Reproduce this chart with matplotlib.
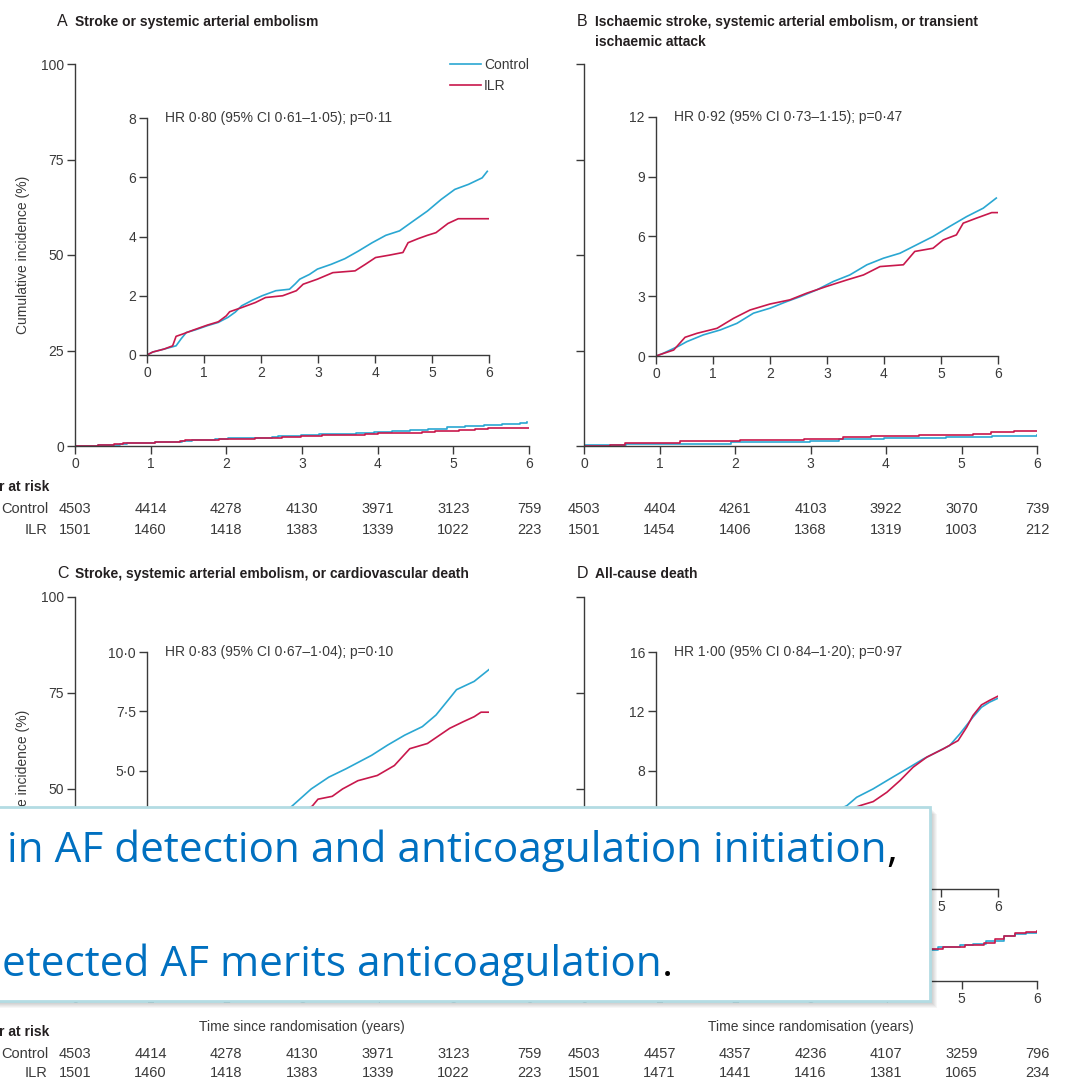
import matplotlib.pyplot as plt
import matplotlib.transforms as mtransforms
from matplotlib.patches import Rectangle

plt.rcParams['font.family'] = ['Liberation Sans', 'DejaVu Sans']

# ---- cumulative incidence (%) per arm ----
# A: stroke or systemic arterial embolism
a_ctrl_t = [0, 0.1, 0.3, 0.51, 0.6, 0.69, 0.85, 1.06, 1.25, 1.42, 1.55, 1.66, 1.85, 2.02, 2.26, 2.5, 2.6,
            2.68, 2.85, 2.99, 3.23, 3.47, 3.71, 3.95, 4.19, 4.43, 4.67, 4.92, 5.16, 5.4, 5.64, 5.88, 5.97]
a_ctrl_y = [0, 0.1, 0.2, 0.31, 0.55, 0.76, 0.85, 0.99, 1.1, 1.27, 1.45, 1.66, 1.85, 2.0, 2.17, 2.22, 2.4,
            2.56, 2.72, 2.9, 3.06, 3.25, 3.51, 3.79, 4.04, 4.19, 4.52, 4.86, 5.25, 5.59, 5.76, 5.98, 6.2]
a_ilr_t = [0, 0.1, 0.3, 0.45, 0.51, 0.63, 0.81, 1.06, 1.25, 1.39, 1.45, 1.66, 1.9, 2.08, 2.38, 2.62, 2.74,
           2.99, 3.26, 3.65, 3.83, 4.01, 4.25, 4.49, 4.58, 4.76, 4.92, 5.07, 5.28, 5.46, 6.0]
a_ilr_y = [0, 0.1, 0.2, 0.31, 0.63, 0.71, 0.84, 1.01, 1.12, 1.32, 1.46, 1.6, 1.77, 1.94, 2.0, 2.17, 2.39,
           2.56, 2.78, 2.84, 3.06, 3.29, 3.37, 3.46, 3.79, 3.93, 4.04, 4.13, 4.44, 4.6, 4.6]

# B: ischaemic stroke, SAE or TIA (inset)
b_ctrl_t = [0, 0.1, 0.25, 0.4, 0.54, 0.83, 1.13, 1.42, 1.71, 2.0, 2.29, 2.53, 2.82, 3.11, 3.4, 3.7,
            3.99, 4.28, 4.57, 4.86, 5.15, 5.45, 5.74, 5.97]
b_ctrl_y = [0, 0.1, 0.3, 0.5, 0.72, 1.06, 1.31, 1.64, 2.15, 2.4, 2.73, 2.98, 3.32, 3.74, 4.07, 4.58,
            4.91, 5.16, 5.58, 6.0, 6.5, 7.0, 7.42, 7.93]
b_ilr_t = [0, 0.1, 0.31, 0.51, 0.72, 1.07, 1.36, 1.65, 2.0, 2.35, 2.64, 2.99, 3.35, 3.64, 3.93, 4.34,
           4.54, 4.86, 5.04, 5.27, 5.39, 5.62, 5.89, 5.99]
b_ilr_y = [0, 0.1, 0.3, 0.94, 1.14, 1.39, 1.89, 2.31, 2.61, 2.82, 3.15, 3.49, 3.82, 4.07, 4.49, 4.58,
           5.25, 5.41, 5.83, 6.08, 6.67, 6.92, 7.2, 7.2]
# B: full-scale panel
b_main_ctrl_t = [0, 0.56, 1.95, 2.99, 3.38, 3.98, 4.79, 5.4, 6.0]
b_main_ctrl_y = [0.26, 0.5, 1.04, 1.39, 1.73, 2.0, 2.34, 2.69, 2.86]
b_main_ilr_t = [0, 0.35, 0.54, 1.27, 2.06, 2.92, 3.43, 3.8, 4.44, 5.15, 5.39, 5.7, 6.0]
b_main_ilr_y = [0, 0.35, 0.8, 1.2, 1.56, 1.9, 2.25, 2.6, 2.86, 3.2, 3.55, 3.9, 3.9]

# C: stroke, SAE or cardiovascular death
c_ctrl_t = [0, 0.5, 1.0, 1.5, 2.0, 2.3, 2.55, 2.88, 3.19, 3.49, 3.94, 4.22, 4.52, 4.83, 5.07, 5.31,
            5.43, 5.74, 6.0]
c_ctrl_y = [0, 0.6, 1.2, 1.9, 2.6, 3.0, 3.51, 4.22, 4.72, 5.07, 5.64, 6.07, 6.49, 6.85, 7.34, 8.05,
            8.41, 8.76, 9.26]
c_ilr_t = [0, 0.5, 1.0, 1.5, 2.0, 2.5, 2.9, 3.0, 3.25, 3.43, 3.7, 4.04, 4.34, 4.61, 4.92, 5.31, 5.55,
           5.74, 5.86, 6.0]
c_ilr_y = [0, 0.6, 1.2, 1.8, 2.4, 2.9, 3.5, 3.79, 3.91, 4.22, 4.57, 4.79, 5.21, 5.92, 6.14, 6.78, 7.06,
           7.27, 7.46, 7.46]

# D: all-cause death
d_ctrl_t = [0, 0.25, 0.5, 0.75, 1.0, 1.5, 2.0, 2.5, 3.0, 3.35, 3.52, 3.81, 4.1, 4.4, 4.69, 4.98, 5.15,
            5.33, 5.56, 5.71, 5.85, 6.0]
d_ctrl_y = [0, 0.5, 1.0, 1.4, 1.9, 2.7, 3.5, 4.3, 5.0, 5.63, 6.19, 6.76, 7.43, 8.11, 8.78, 9.35, 9.68,
            10.47, 11.6, 12.27, 12.61, 12.88]
d_ilr_t = [0, 0.25, 0.5, 0.75, 1.0, 1.5, 2.0, 2.5, 3.0, 3.58, 3.81, 4.05, 4.28, 4.51, 4.75, 5.04, 5.3,
           5.45, 5.56, 5.71, 5.85, 6.0]
d_ilr_y = [0, 0.5, 1.0, 1.4, 1.9, 2.7, 3.4, 4.1, 4.8, 5.63, 5.9, 6.53, 7.32, 8.22, 8.9, 9.46, 10.02,
           10.92, 11.71, 12.43, 12.73, 13.02]

# numbers at risk at years 0..6
years = [0, 1, 2, 3, 4, 5, 6]
a_risk_ctrl = [4503, 4414, 4278, 4130, 3971, 3123, 759]
a_risk_ilr = [1501, 1460, 1418, 1383, 1339, 1022, 223]
b_risk_ctrl = [4503, 4404, 4261, 4103, 3922, 3070, 739]
b_risk_ilr = [1501, 1454, 1406, 1368, 1319, 1003, 212]
c_risk_ctrl = [4503, 4414, 4278, 4130, 3971, 3123, 759]
c_risk_ilr = [1501, 1460, 1418, 1383, 1339, 1022, 223]
d_risk_ctrl = [4503, 4457, 4357, 4236, 4107, 3259, 796]
d_risk_ilr = [1501, 1471, 1441, 1416, 1381, 1065, 234]

main_ticks = [0, 25, 50, 75, 100]
a_in_ticks, a_in_labels = [0, 2, 4, 6, 8], ['0', '2', '4', '6', '8']
b_in_ticks, b_in_labels = [0, 3, 6, 9, 12], ['0', '3', '6', '9', '12']
c_in_ticks, c_in_labels = [0, 2.5, 5, 7.5, 10], ['0', '2·5', '5·0', '7·5', '10·0']
d_in_ticks, d_in_labels = [0, 4, 8, 12, 16], ['0', '4', '8', '12', '16']

hr_a = 'HR 0·80 (95% CI 0·61–1·05); p=0·11'
hr_b = 'HR 0·92 (95% CI 0·73–1·15); p=0·47'
hr_c = 'HR 0·83 (95% CI 0·67–1·04); p=0·10'
hr_d = 'HR 1·00 (95% CI 0·84–1·20); p=0·97'

CTRL = '#2aa7d2'
ILR = '#c8184c'
AXIS = '#3a3a3a'
TXT = '#3a3a3a'
TITLE = '#231f20'
BLUE = '#0070c0'

W, H = 1076, 1088
fig = plt.figure(figsize=(W / 100, H / 100), dpi=100)


def fy(y):
    return 1 - y / H


def px_axes(l, t, r, b):
    return fig.add_axes([l / W, 1 - b / H, (r - l) / W, (b - t) / H])


def style(ax, ticks, labels, ymax, showy=True):
    for s in ['top', 'right']:
        ax.spines[s].set_visible(False)
    for s in ['left', 'bottom']:
        ax.spines[s].set_color(AXIS)
        ax.spines[s].set_linewidth(1.0)
    ax.patch.set_visible(False)
    ax.set_xlim(0, 6)
    ax.set_ylim(0, ymax)
    ax.set_xticks(years)
    ax.set_yticks(ticks, labels if showy else [''] * len(ticks))
    ax.tick_params(direction='out', length=6, width=1.0, color=AXIS,
                   labelsize=10, labelcolor=TXT, pad=2)


def curves(ax, ct, cy, it, iy, ds='default'):
    lc, = ax.plot(ct, cy, drawstyle=ds, color=CTRL, lw=1.2)
    li, = ax.plot(it, iy, drawstyle=ds, color=ILR, lw=1.2)
    return lc, li


# full-scale axes (0-100) and zoomed insets
ax_a = px_axes(75, 64, 529, 446)
ax_b = px_axes(584, 64, 1037, 446)
ax_c = px_axes(75, 597, 529, 981)
ax_d = px_axes(584, 597, 1037, 981)
in_a = px_axes(147, 118, 489, 355)
in_b = px_axes(656, 117, 998, 356)
in_c = px_axes(147, 652, 489, 889)
in_d = px_axes(656, 652, 998, 889)

style(ax_a, main_ticks, [str(v) for v in main_ticks], 100)
style(ax_b, main_ticks, None, 100, showy=False)
style(ax_c, main_ticks, [str(v) for v in main_ticks], 100)
style(ax_d, main_ticks, None, 100, showy=False)
style(in_a, a_in_ticks, a_in_labels, 8)
style(in_b, b_in_ticks, b_in_labels, 12)
style(in_c, c_in_ticks, c_in_labels, 10)
style(in_d, d_in_ticks, d_in_labels, 16)

lc, li = curves(ax_a, a_ctrl_t, a_ctrl_y, a_ilr_t, a_ilr_y, 'steps-post')
curves(in_a, a_ctrl_t, a_ctrl_y, a_ilr_t, a_ilr_y)
curves(ax_b, b_main_ctrl_t, b_main_ctrl_y, b_main_ilr_t, b_main_ilr_y, 'steps-post')
curves(in_b, b_ctrl_t, b_ctrl_y, b_ilr_t, b_ilr_y)
curves(ax_c, c_ctrl_t, c_ctrl_y, c_ilr_t, c_ilr_y, 'steps-post')
curves(in_c, c_ctrl_t, c_ctrl_y, c_ilr_t, c_ilr_y)
curves(ax_d, d_ctrl_t, d_ctrl_y, d_ilr_t, d_ilr_y, 'steps-post')
curves(in_d, d_ctrl_t, d_ctrl_y, d_ilr_t, d_ilr_y)

for ax, hr in [(in_a, hr_a), (in_b, hr_b), (in_c, hr_c), (in_d, hr_d)]:
    ax.text(0.053, 1.0, hr, transform=ax.transAxes, va='center', ha='left',
            fontsize=10, color=TXT)

for ax in [ax_a, ax_c]:
    ax.set_ylabel('Cumulative incidence (%)', fontsize=10, color=TXT, labelpad=8)
for ax in [ax_c, ax_d]:
    ax.set_xlabel('Time since randomisation (years)', fontsize=10, color=TXT, labelpad=10)

fig.legend([lc, li], ['Control', 'ILR'], loc='upper left', bbox_to_anchor=(450 / W, fy(58)),
           frameon=False, fontsize=10, handlelength=2.2, handletextpad=0.25,
           labelspacing=0.5, borderpad=0, borderaxespad=0, labelcolor=TXT)

# panel titles
for x, y, letter, title in [(57, 22, 'A', 'Stroke or systemic arterial embolism'),
                            (577, 22, 'B', 'Ischaemic stroke, systemic arterial embolism, or transient'),
                            (57, 574, 'C', 'Stroke, systemic arterial embolism, or cardiovascular death'),
                            (577, 574, 'D', 'All-cause death')]:
    fig.text(x / W, fy(y), letter, fontsize=11.5, color=TITLE, va='center', ha='left')
    fig.text((x + 18) / W, fy(y), title, fontsize=10, weight='bold', color=TITLE,
             va='center', ha='left')
fig.text(595 / W, fy(42), 'ischaemic attack', fontsize=10, weight='bold', color=TITLE,
         va='center', ha='left')

# numbers at risk: header row, control row, ILR row
risk_rows_top = [487, 509, 530]
risk_rows_bottom = [1032, 1054, 1073]
for ax, rc, ri, rows in [(ax_a, a_risk_ctrl, a_risk_ilr, risk_rows_top),
                         (ax_b, b_risk_ctrl, b_risk_ilr, risk_rows_top),
                         (ax_c, c_risk_ctrl, c_risk_ilr, risk_rows_bottom),
                         (ax_d, d_risk_ctrl, d_risk_ilr, risk_rows_bottom)]:
    tr = mtransforms.blended_transform_factory(ax.transData, fig.transFigure)
    for yr, n1, n2 in zip(years, rc, ri):
        fig.text(yr, fy(rows[1]), str(n1), transform=tr, ha='center', va='center',
                 fontsize=10.5, color=TXT)
        fig.text(yr, fy(rows[2]), str(n2), transform=tr, ha='center', va='center',
                 fontsize=10.5, color=TXT)

for rows in [risk_rows_top, risk_rows_bottom]:
    fig.text(49 / W, fy(rows[0]), 'Number at risk', ha='right', va='center', fontsize=10,
             weight='bold', color=TITLE)
    fig.text(48 / W, fy(rows[1]), 'Control', ha='right', va='center', fontsize=10.5, color=TXT)
    fig.text(48 / W, fy(rows[2]), 'ILR', ha='right', va='center', fontsize=10.5, color=TXT)

# callout box over the lower panels
bx0, bx1, by0, by1 = -20, 930, 807, 1001
for i in range(1, 8):
    fig.add_artist(Rectangle((bx0 / W, fy(by1 + i)), (bx1 - bx0 + i) / W, (by1 - by0) / H,
                             transform=fig.transFigure, facecolor='black', edgecolor='none',
                             alpha=0.035, zorder=9))
fig.add_artist(Rectangle((bx0 / W, fy(by1)), (bx1 - bx0) / W, (by1 - by0) / H,
                         transform=fig.transFigure, facecolor='white', edgecolor='#b3dce3',
                         lw=2, zorder=10))

renderer = fig.canvas.get_renderer()
for x, y, words, mark in [(7, 862, 'in AF detection and anticoagulation initiation', ','),
                          (2, 976, 'etected AF merits anticoagulation', '.')]:
    t = fig.text(x / W, fy(y), words, fontsize=30.4, family='Open Sans', color=BLUE,
                 va='baseline', ha='left', zorder=11)
    bb = t.get_window_extent(renderer)
    fig.text(bb.x1 / W, fy(y), mark, fontsize=30.4, family='Open Sans', color='black',
             va='baseline', ha='left', zorder=11)

fig.savefig('out.png', dpi=100)
